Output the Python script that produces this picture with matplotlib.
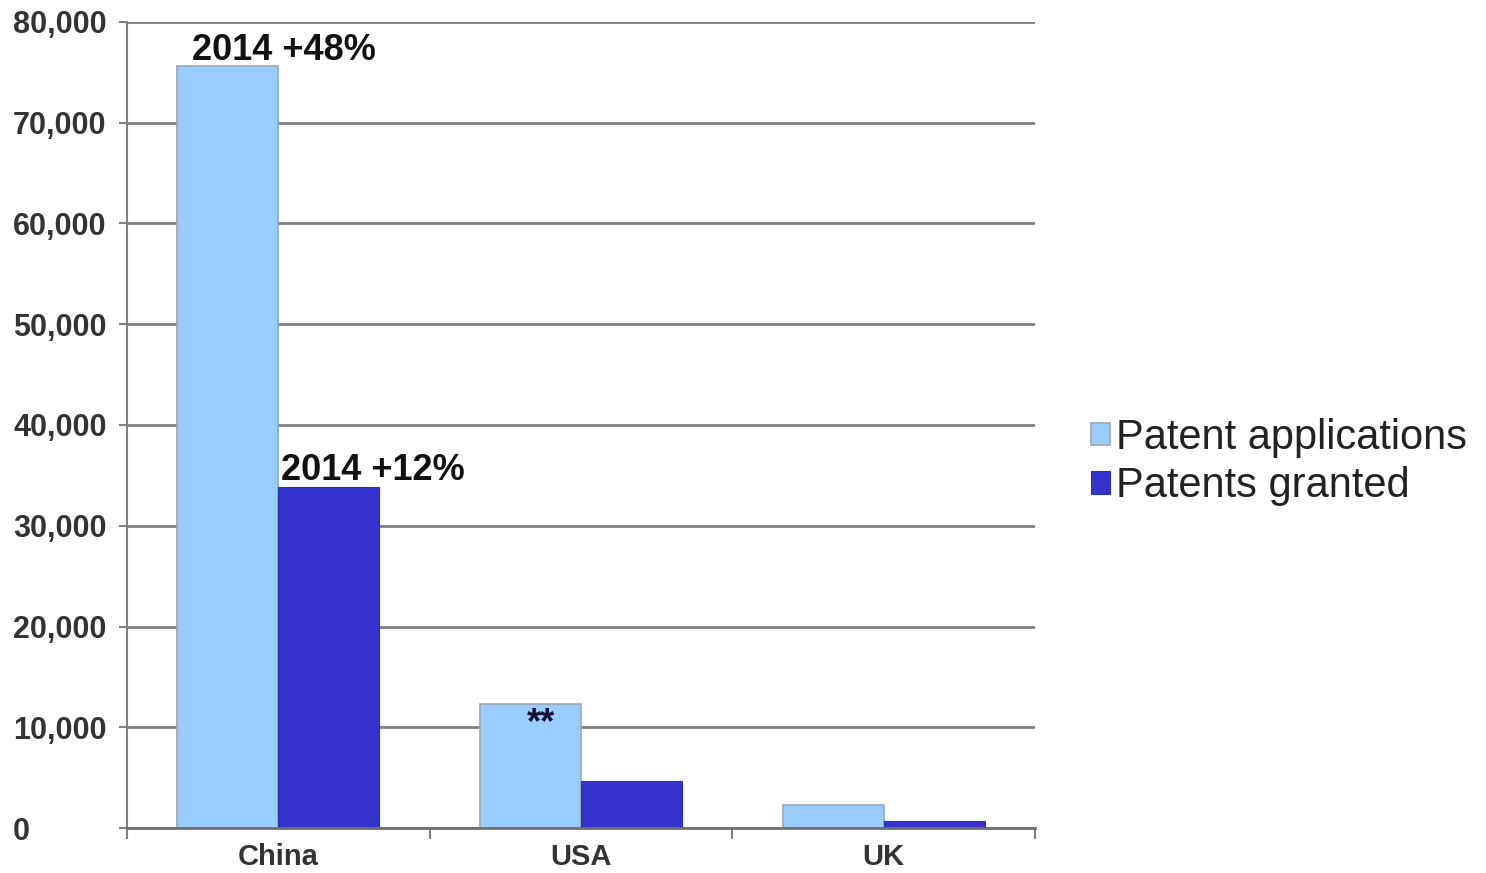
import matplotlib
matplotlib.use("Agg")
import matplotlib.pyplot as plt
import numpy as np

categories = ["China", "USA", "UK"]
applications = [75600, 12300, 2300]
granted = [33800, 4700, 700]
series_names = ["Patent applications", "Patents granted"]
yticks = [0, 10000, 20000, 30000, 40000, 50000, 60000, 70000, 80000]
ytick_labels = ["0", "10,000", "20,000", "30,000", "40,000", "50,000", "60,000", "70,000", "80,000"]
annotations = ["2014 +48%", "2014 +12%", "**"]

plt.rcParams['font.family'] = ['Liberation Sans', 'DejaVu Sans']

fig = plt.figure(figsize=(14.86, 8.73), dpi=100)
ax = fig.add_axes([127/1486, 45/873, (1035-127)/1486, (828-22)/873])

x = np.arange(len(categories))
w = 1/3
light = "#99ccff"
dark = "#3333cc"
b1 = ax.bar(x - w/2, applications, w, color=light, edgecolor="#9aa6b4", linewidth=1.2, zorder=3, label=series_names[0])
b2 = ax.bar(x + w/2, granted, w, color=dark, edgecolor="#3030b0", linewidth=0.8, zorder=3, label=series_names[1])

ax.set_xlim(-0.5, 2.5)
ax.set_ylim(0, 80000)

ax.set_yticks(yticks)
ax.set_yticklabels(ytick_labels)
for lab in ax.get_yticklabels():
    lab.set_horizontalalignment('left')
ax.tick_params(axis='y', length=6, width=1.5, color="#808080", pad=76,
               labelsize=22, labelcolor="#333333")
for lab in ax.get_yticklabels():
    lab.set_fontweight('bold')

ax.set_xticks([-0.5, 0.5, 1.5, 2.5])
ax.set_xticklabels([])
ax.set_xticks(x, minor=True)
ax.set_xticklabels(categories, minor=True, fontsize=21, fontweight='bold', color="#333333")
ax.tick_params(axis='x', which='major', length=8, width=1.5, color="#808080", direction='out')
ax.tick_params(axis='x', which='minor', length=0, pad=11)

ax.yaxis.grid(True, color="#808080", linewidth=2, zorder=0)
ax.set_axisbelow(True)
for s in ["top", "right"]:
    ax.spines[s].set_visible(False)
ax.spines["left"].set_color("#808080")
ax.spines["left"].set_linewidth(1.5)
ax.spines["bottom"].set_color("#707070")
ax.spines["bottom"].set_linewidth(2)
ax.spines["bottom"].set_zorder(4)

# annotations
ax.annotate(annotations[0], xy=(x[0] - w, applications[0]), xytext=(15, -2),
            textcoords='offset pixels', ha='left', va='bottom', fontsize=26,
            fontweight='bold', color="#111111", zorder=5)
ax.annotate(annotations[1], xy=(x[0], granted[0]), xytext=(3, -1),
            textcoords='offset pixels', ha='left', va='bottom', fontsize=26,
            fontweight='bold', color="#111111", zorder=5)
ax.annotate(annotations[2], xy=(x[1] - w/2, applications[1]), xytext=(10, -2),
            textcoords='offset pixels', ha='center', va='top', fontsize=26,
            fontweight='bold', color="#111133", zorder=5)

leg = fig.legend(handles=[b1, b2], labels=series_names, loc='center left',
                 bbox_to_anchor=(1091/1486, 1 - 462/873), frameon=False,
                 fontsize=30, handlelength=0.45, handleheight=0.45,
                 handletextpad=0.15, labelspacing=0.2, borderaxespad=0,
                 borderpad=0)
for t in leg.get_texts():
    t.set_color("#222222")

fig.savefig("out.png", dpi=100)
